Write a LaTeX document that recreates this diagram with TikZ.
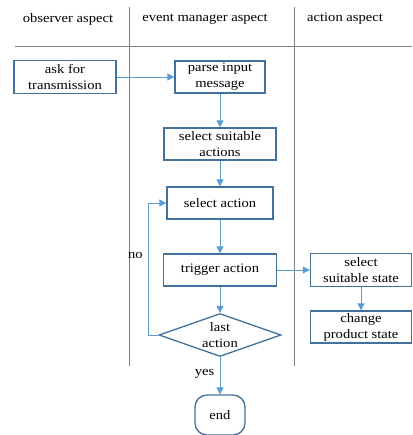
\documentclass[tikz,border=0pt]{standalone}
\usepackage{fontspec}
\setmainfont{Liberation Serif}[FakeStretch=1.12]
\usetikzlibrary{
    shapes.geometric,
    arrows.meta,
    positioning,
    calc
}
\definecolor{boxblue}{HTML}{41719C}
\definecolor{flowblue}{HTML}{5B9BD5}
\definecolor{lanegray}{HTML}{7F7F7F}

\begin{document}
\begin{tikzpicture}[x=1pt, y=-1pt,
            every node/.style={font=\fontsize{13}{16}\selectfont},
            lane_title/.style={anchor=center, inner sep=0pt},
            lane_line/.style={draw=lanegray, line width=0.9pt},
            step_box/.style={rectangle, draw=boxblue, line width=1.3pt, align=center, inner sep=0pt, minimum height=32pt},
            decision/.style={diamond, draw=boxblue, line width=1.3pt, align=center, inner sep=0pt, aspect=2.84, minimum width=122pt, minimum height=43pt},
            terminal/.style={rectangle, draw=boxblue, line width=1.3pt, rounded corners=12pt, minimum width=50pt, minimum height=40pt},
            flow_arrow/.style={-{Triangle[width=7pt, length=7pt]}, draw=flowblue, line width=0.9pt}
        ]
        \useasboundingbox (0,0) rectangle (412,435);

        % swim lanes
        \draw[lane_line] (129,7) -- (129,366);
        \draw[lane_line] (294,7) -- (294,366);
        \draw[lane_line] (15,46) -- (412,46);
        \node[lane_title] (observer_title) at (68,19) {observer aspect};
        \node[lane_title] (manager_title) at (205,19) {event manager aspect};
        \node[lane_title] (action_title) at (345,19) {action aspect};

        \node[step_box, minimum width=102pt, minimum height=33pt] (ask) at (65,77) {ask for\\transmission};
        \node[step_box, minimum width=90pt] (parse) at (220,77) {parse input\\message};
        \node[step_box, minimum width=112pt] (suitable_actions) at (220,144) {select suitable\\actions};
        \node[step_box, minimum width=106pt] (select_action) at (220,203) {select action};
        \node[step_box, minimum width=113pt] (trigger) at (220,270) {trigger action};
        \node[step_box, minimum width=101pt, minimum height=33pt] (suitable_state) at (361,270) {select\\suitable state};
        \node[step_box, minimum width=101pt] (change_state) at (361,327) {change\\product state};
        \node[decision] (last_action) at (220,335) {last\\action};
        \node[terminal] (finish) at (220,415) {end};

        \draw[flow_arrow] (ask) -- (parse);
        \draw[flow_arrow] (parse) -- (suitable_actions);
        \draw[flow_arrow] (suitable_actions) -- (select_action);
        \draw[flow_arrow] (select_action) -- (trigger);
        \draw[flow_arrow] (trigger) -- (last_action);
        \draw[flow_arrow] (trigger) -- (suitable_state);
        \draw[flow_arrow] (suitable_state) -- (change_state);
        \draw[flow_arrow] (last_action.west) -- ++(-10,0) |- node[pos=0.3, left=2pt] (no_label) {no} (select_action.west);
        \draw[flow_arrow] (last_action) -- node[left=2pt, pos=0.45] (yes_label) {yes} (finish);

        \end{tikzpicture}
\end{document}
